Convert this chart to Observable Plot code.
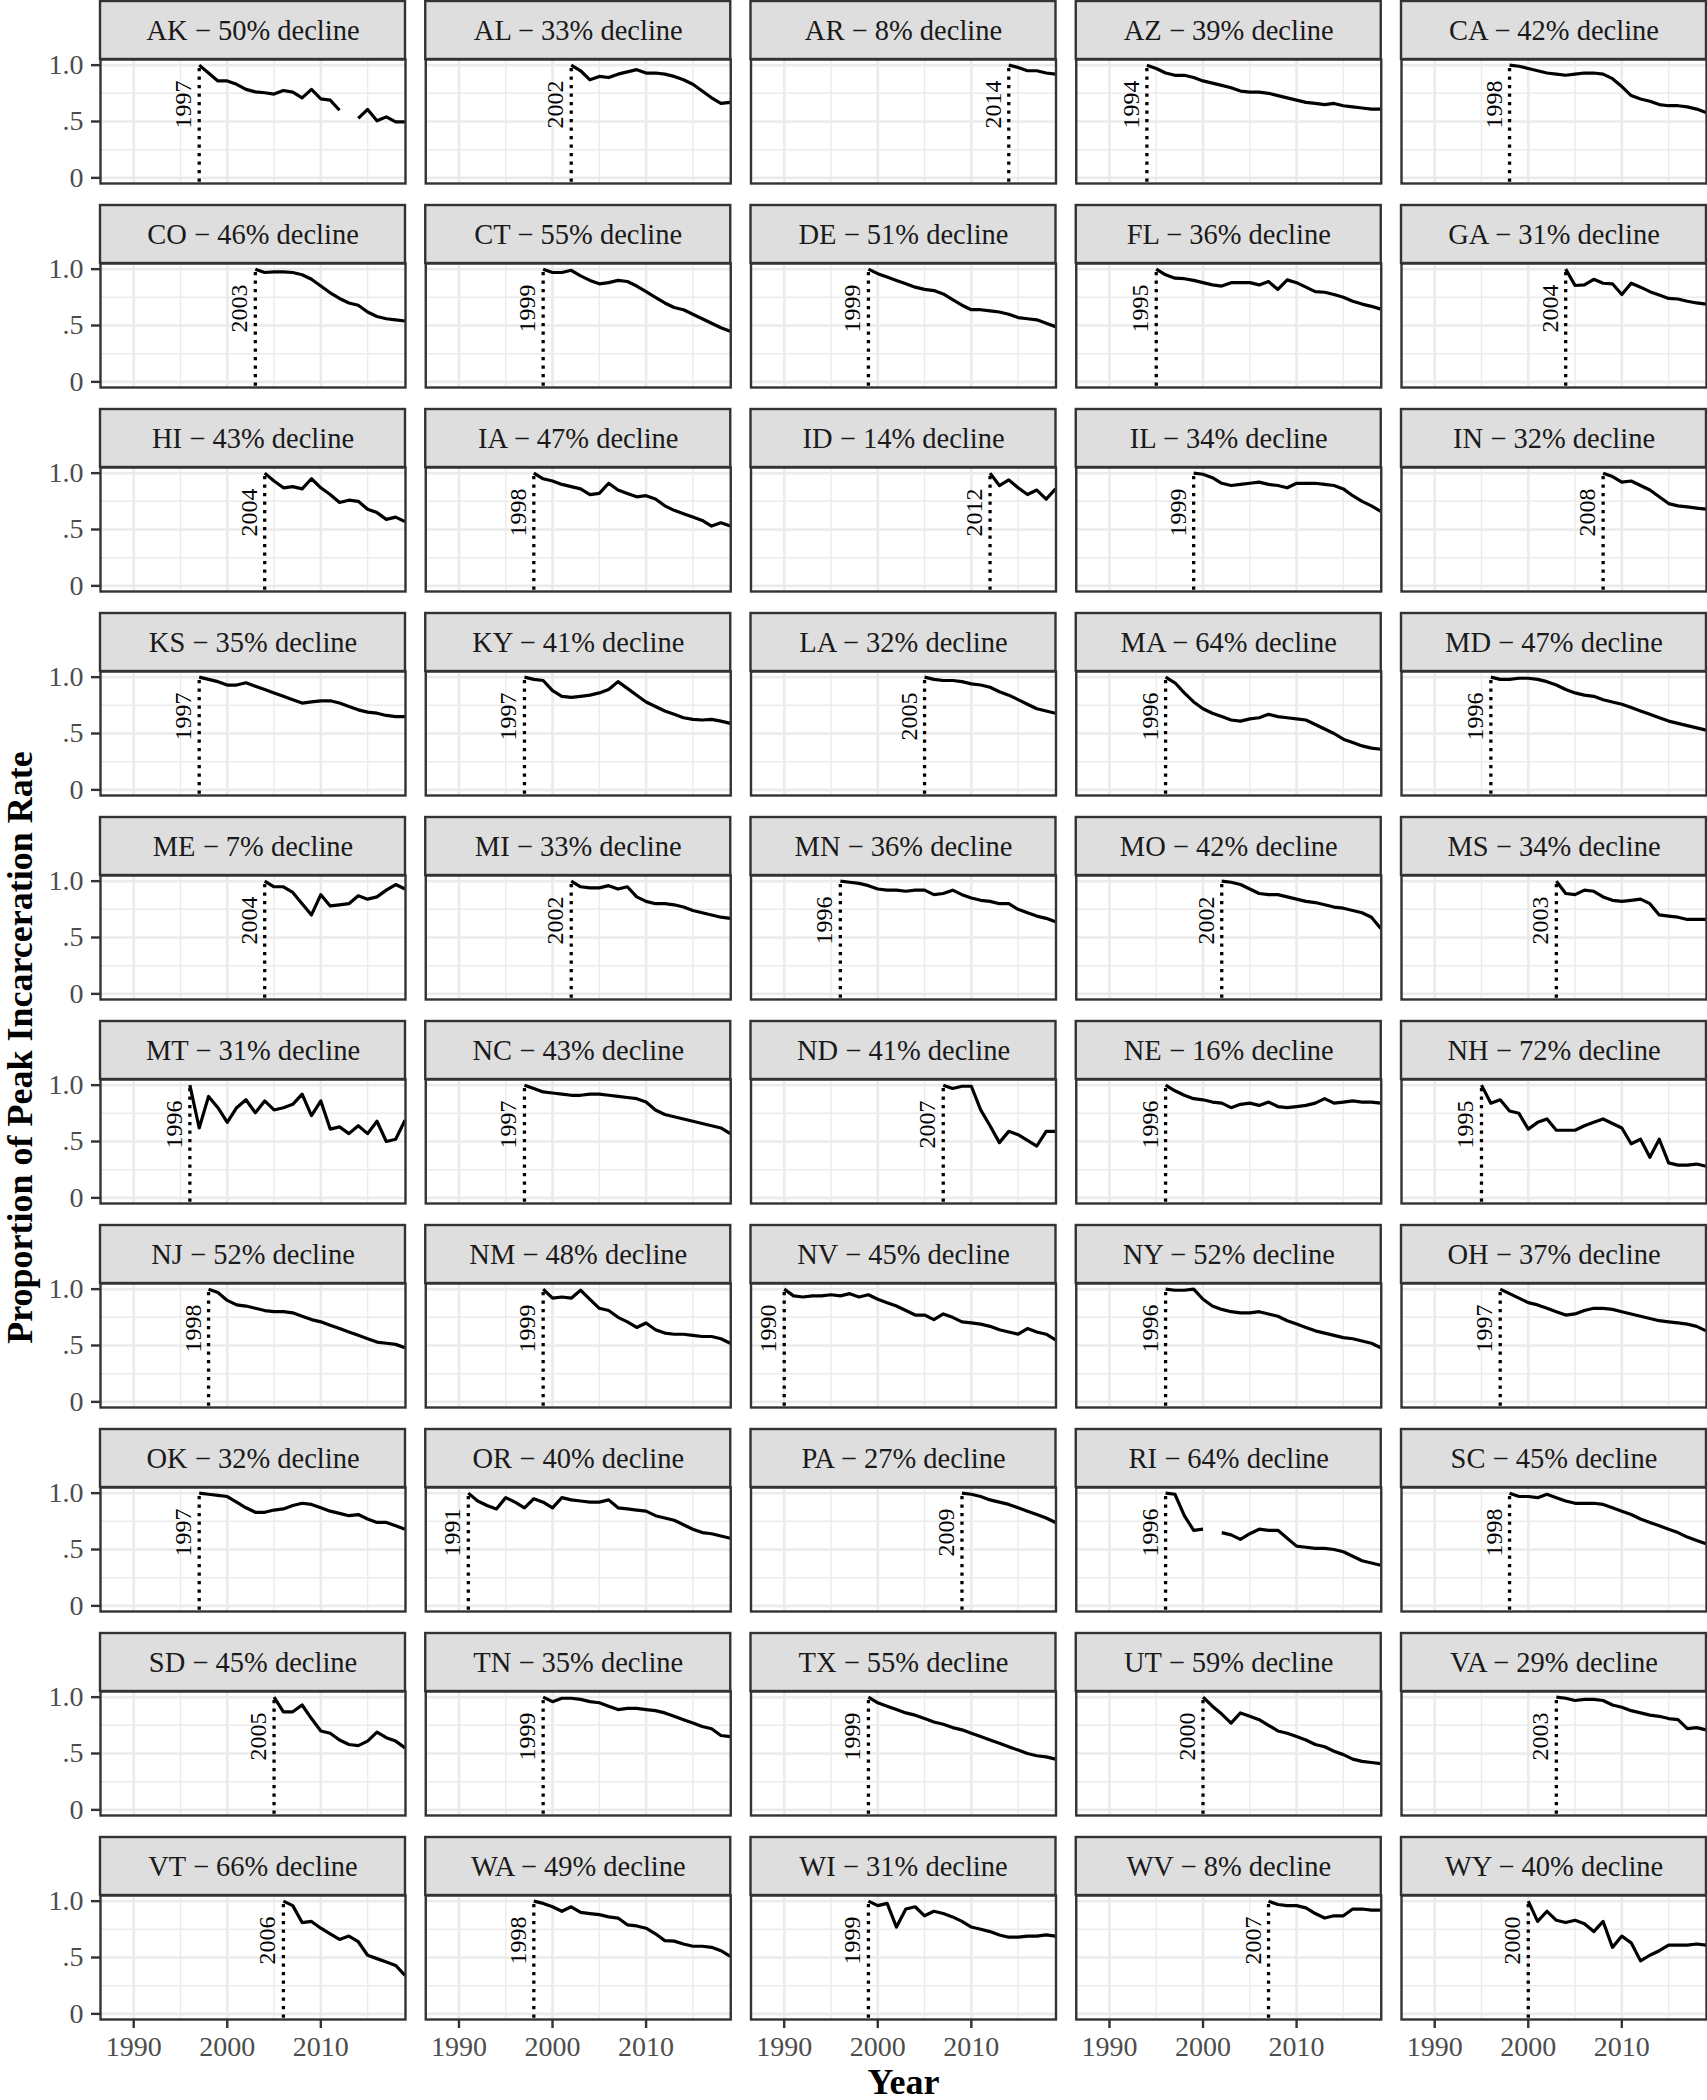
<!DOCTYPE html>
<html>
<head>
<meta charset="utf-8">
<script src="https://cdn.jsdelivr.net/npm/d3@7"></script>
<script src="https://cdn.jsdelivr.net/npm/@observablehq/plot@0.6"></script>
<style>
  body { margin: 0; background: #fff; }
  #chart svg { display: block; }
</style>
</head>
<body>
<div id="chart"></div>
<script>
// ---------------- data ----------------
const states = ["AK","AL","AR","AZ","CA","CO","CT","DE","FL","GA","HI","IA","ID","IL","IN","KS","KY","LA","MA","MD","ME","MI","MN","MO","MS","MT","NC","ND","NE","NH","NJ","NM","NV","NY","OH","OK","OR","PA","RI","SC","SD","TN","TX","UT","VA","VT","WA","WI","WV","WY"];
const declines = [50,33,8,39,42, 46,55,51,36,31, 43,47,14,34,32, 35,41,32,64,47, 7,33,36,42,34, 31,43,41,16,72, 52,48,45,52,37, 32,40,27,64,45, 45,35,55,59,29, 66,49,31,8,40];
const peakYears = [1997,2002,2014,1994,1998, 2003,1999,1999,1995,2004, 2004,1998,2012,1999,2008, 1997,1997,2005,1996,1996, 2004,2002,1996,2002,2003, 1996,1997,2007,1996,1995, 1998,1999,1990,1996,1997, 1997,1991,2009,1996,1998, 2005,1999,1999,2000,2003, 2006,1998,1999,2007,2000];
// proportion of peak rate, one value per year from the peak year to 2019 (null = missing)
const values = [
  [1.0,0.93,0.86,0.86,0.83,0.785,0.763,0.755,0.743,0.775,0.76,0.71,0.785,0.70,0.69,0.60,null,0.527,0.607,0.506,0.541,0.497,0.497], // AK
  [1.0,0.95,0.87,0.90,0.89,0.92,0.94,0.96,0.93,0.93,0.92,0.90,0.87,0.83,0.77,0.71,0.66,0.67], // AL
  [1.0,0.98,0.95,0.95,0.93,0.92], // AR
  [1.0,0.97,0.93,0.91,0.91,0.89,0.86,0.84,0.82,0.80,0.77,0.76,0.76,0.75,0.73,0.71,0.69,0.67,0.66,0.65,0.66,0.64,0.63,0.62,0.61,0.61], // AZ
  [1.0,0.99,0.97,0.95,0.93,0.92,0.91,0.92,0.93,0.93,0.92,0.88,0.81,0.73,0.70,0.68,0.65,0.64,0.64,0.63,0.61,0.58], // CA
  [1.0,0.97,0.975,0.975,0.97,0.95,0.91,0.85,0.79,0.74,0.70,0.68,0.62,0.58,0.56,0.55,0.54], // CO
  [1.0,0.97,0.97,0.99,0.94,0.90,0.87,0.88,0.90,0.89,0.85,0.80,0.75,0.70,0.66,0.64,0.60,0.56,0.52,0.48,0.45], // CT
  [1.0,0.96,0.93,0.90,0.87,0.84,0.82,0.81,0.78,0.73,0.68,0.64,0.64,0.63,0.62,0.60,0.57,0.56,0.55,0.52,0.49], // DE
  [1.0,0.95,0.92,0.915,0.90,0.88,0.86,0.85,0.88,0.88,0.88,0.86,0.89,0.82,0.905,0.88,0.84,0.80,0.795,0.775,0.75,0.715,0.69,0.67,0.645], // FL
  [1.0,0.855,0.86,0.91,0.875,0.87,0.775,0.875,0.84,0.80,0.77,0.74,0.735,0.715,0.70,0.69], // GA
  [1.0,0.93,0.87,0.88,0.86,0.95,0.87,0.81,0.74,0.76,0.75,0.68,0.65,0.59,0.61,0.57], // HI
  [1.0,0.95,0.93,0.90,0.88,0.86,0.81,0.82,0.91,0.85,0.82,0.79,0.80,0.77,0.71,0.67,0.64,0.61,0.58,0.53,0.56,0.53], // IA
  [1.0,0.89,0.94,0.87,0.81,0.85,0.77,0.86], // ID
  [1.0,0.99,0.96,0.91,0.89,0.90,0.91,0.92,0.90,0.89,0.87,0.91,0.91,0.91,0.90,0.89,0.86,0.80,0.75,0.71,0.66], // IL
  [1.0,0.97,0.92,0.93,0.89,0.85,0.79,0.73,0.71,0.70,0.69,0.68], // IN
  [1.0,0.98,0.96,0.93,0.93,0.95,0.92,0.89,0.86,0.83,0.80,0.77,0.78,0.79,0.79,0.77,0.74,0.71,0.69,0.68,0.66,0.65,0.65], // KS
  [1.0,0.98,0.97,0.88,0.83,0.82,0.83,0.84,0.86,0.89,0.96,0.90,0.84,0.78,0.74,0.70,0.67,0.64,0.625,0.62,0.625,0.61,0.59], // KY
  [1.0,0.98,0.97,0.97,0.96,0.94,0.93,0.91,0.87,0.84,0.80,0.76,0.72,0.70,0.68], // LA
  [1.0,0.95,0.86,0.78,0.72,0.68,0.65,0.62,0.61,0.63,0.64,0.67,0.65,0.64,0.63,0.62,0.58,0.54,0.50,0.45,0.42,0.39,0.37,0.36], // MA
  [1.0,0.98,0.98,0.99,0.99,0.98,0.96,0.93,0.89,0.86,0.84,0.83,0.80,0.78,0.76,0.73,0.70,0.67,0.64,0.61,0.59,0.57,0.55,0.53], // MD
  [1.0,0.95,0.95,0.90,0.80,0.70,0.88,0.78,0.79,0.80,0.87,0.84,0.86,0.92,0.97,0.93], // ME
  [1.0,0.95,0.94,0.94,0.96,0.93,0.95,0.86,0.82,0.80,0.80,0.79,0.77,0.74,0.72,0.70,0.68,0.67], // MI
  [1.0,0.99,0.98,0.96,0.93,0.92,0.92,0.91,0.92,0.92,0.88,0.89,0.92,0.88,0.85,0.83,0.82,0.80,0.80,0.75,0.72,0.69,0.67,0.64], // MN
  [1.0,0.99,0.97,0.93,0.89,0.88,0.88,0.86,0.84,0.82,0.81,0.79,0.77,0.76,0.74,0.72,0.68,0.58], // MO
  [1.0,0.89,0.88,0.92,0.91,0.86,0.83,0.82,0.83,0.84,0.80,0.70,0.69,0.68,0.66,0.66,0.66], // MS
  [1.0,0.62,0.90,0.80,0.67,0.80,0.87,0.755,0.86,0.78,0.80,0.83,0.92,0.73,0.86,0.61,0.63,0.57,0.64,0.57,0.68,0.50,0.52,0.69], // MT
  [1.0,0.97,0.94,0.93,0.92,0.91,0.91,0.92,0.92,0.91,0.90,0.89,0.88,0.85,0.78,0.74,0.72,0.70,0.68,0.66,0.64,0.62,0.57], // NC
  [1.0,0.97,0.99,0.99,0.78,0.64,0.49,0.59,0.56,0.51,0.46,0.59,0.59], // ND
  [1.0,0.95,0.91,0.88,0.87,0.85,0.84,0.80,0.83,0.84,0.82,0.85,0.81,0.80,0.81,0.82,0.84,0.88,0.84,0.85,0.86,0.85,0.85,0.84], // NE
  [1.0,0.84,0.87,0.77,0.75,0.61,0.67,0.70,0.60,0.60,0.60,0.64,0.67,0.70,0.66,0.62,0.48,0.52,0.36,0.52,0.31,0.29,0.29,0.30,0.28], // NH
  [1.0,0.97,0.90,0.86,0.85,0.83,0.81,0.80,0.80,0.79,0.76,0.73,0.71,0.68,0.65,0.62,0.59,0.56,0.53,0.52,0.51,0.48], // NJ
  [1.0,0.92,0.93,0.92,0.99,0.91,0.83,0.81,0.75,0.71,0.66,0.70,0.64,0.61,0.60,0.60,0.59,0.58,0.58,0.56,0.52], // NM
  [1.0,0.94,0.93,0.94,0.94,0.95,0.94,0.96,0.93,0.95,0.91,0.88,0.85,0.81,0.77,0.77,0.73,0.78,0.75,0.71,0.70,0.69,0.67,0.64,0.62,0.60,0.65,0.62,0.60,0.55], // NV
  [1.0,0.99,0.99,1.0,0.91,0.85,0.82,0.80,0.79,0.79,0.80,0.78,0.76,0.72,0.69,0.66,0.63,0.61,0.59,0.57,0.56,0.54,0.52,0.48], // NY
  [1.0,0.96,0.92,0.88,0.86,0.83,0.80,0.77,0.78,0.81,0.83,0.83,0.82,0.80,0.78,0.76,0.74,0.72,0.71,0.70,0.69,0.67,0.63], // OH
  [1.0,0.99,0.98,0.97,0.92,0.87,0.83,0.83,0.85,0.86,0.89,0.91,0.90,0.87,0.84,0.82,0.80,0.81,0.77,0.74,0.74,0.71,0.68], // OK
  [1.0,0.93,0.89,0.86,0.96,0.92,0.87,0.95,0.92,0.87,0.96,0.94,0.93,0.92,0.92,0.94,0.87,0.86,0.85,0.84,0.80,0.78,0.76,0.72,0.68,0.65,0.64,0.62,0.60], // OR
  [1.0,0.99,0.97,0.94,0.92,0.90,0.87,0.84,0.81,0.78,0.74], // PA
  [1.0,0.99,0.80,0.67,0.68,null,0.65,0.63,0.59,0.64,0.68,0.67,0.67,0.60,0.53,0.52,0.51,0.51,0.50,0.48,0.44,0.40,0.38,0.36], // RI
  [1.0,0.97,0.97,0.96,0.99,0.96,0.93,0.91,0.91,0.91,0.90,0.87,0.84,0.81,0.77,0.74,0.71,0.68,0.65,0.61,0.58,0.55], // SC
  [1.0,0.87,0.87,0.93,0.81,0.70,0.68,0.62,0.58,0.57,0.61,0.69,0.64,0.61,0.55], // SD
  [1.0,0.96,0.99,0.99,0.98,0.96,0.95,0.92,0.89,0.90,0.90,0.89,0.88,0.86,0.83,0.80,0.77,0.74,0.72,0.66,0.65], // TN
  [1.0,0.95,0.92,0.89,0.86,0.84,0.81,0.78,0.76,0.73,0.71,0.68,0.65,0.62,0.59,0.56,0.53,0.50,0.48,0.47,0.45], // TX
  [1.0,0.92,0.85,0.77,0.86,0.83,0.80,0.75,0.70,0.68,0.65,0.62,0.58,0.56,0.52,0.49,0.45,0.43,0.42,0.41], // UT
  [1.0,0.99,0.97,0.98,0.98,0.97,0.93,0.91,0.88,0.86,0.84,0.83,0.81,0.80,0.72,0.73,0.71], // VA
  [1.0,0.96,0.81,0.82,0.76,0.71,0.66,0.69,0.64,0.52,0.49,0.46,0.43,0.34], // VT
  [1.0,0.98,0.95,0.91,0.95,0.90,0.89,0.88,0.86,0.85,0.79,0.78,0.76,0.71,0.65,0.645,0.62,0.60,0.60,0.59,0.56,0.51], // WA
  [1.0,0.96,0.98,0.77,0.93,0.95,0.87,0.91,0.89,0.86,0.82,0.77,0.75,0.73,0.70,0.68,0.68,0.69,0.69,0.70,0.69], // WI
  [1.0,0.97,0.96,0.96,0.94,0.89,0.85,0.87,0.87,0.93,0.93,0.92,0.92], // WV
  [1.0,0.82,0.91,0.83,0.81,0.83,0.80,0.73,0.82,0.59,0.69,0.63,0.47,0.52,0.56,0.61,0.61,0.61,0.62,0.61]  // WY
];
const xTicks = [1990, 2000, 2010];
const xMinorTicks = [1995, 2005, 2015];
const yTicks = [0, 0.5, 1];
const yTickLabels = ["0", ".5", "1.0"];
const yMinorTicks = [0.25, 0.75];
const xTitle = "Year";
const yTitle = "Proportion of Peak Incarceration Rate";

// ---------------- layout helpers ----------------
const NCOL = 5;
const xDomain = [1986.45, 2019.05];
const yDomain = [-0.05, 1.05];
const stripSpan = 0.5145;               // strip height in y units (above each panel)
const labelY = 0.65;                    // where the rotated peak-year label sits

const panels = states.map((s, i) => ({
  state: s,
  label: `${s} \u2212 ${declines[i]}% decline`,
  peak: peakYears[i],
  col: i % NCOL,
  row: Math.floor(i / NCOL)
}));
const points = [];
panels.forEach((p, i) => {
  values[i].forEach((v, j) => {
    points.push({state: p.state, col: p.col, row: p.row, year: p.peak + j, value: v});
  });
});

const FONT = "'Liberation Serif', 'DejaVu Serif', serif";
const gridColor = "#ebebeb";
const darkLine = "#333333";

const chart = Plot.plot({
  width: 1707,
  height: 2100,
  marginLeft: 100,
  marginRight: 1,
  marginTop: 59,
  marginBottom: 81,
  style: {fontFamily: FONT, background: "#ffffff", overflow: "visible"},
  x: {domain: xDomain},
  y: {domain: yDomain},
  fx: {domain: d3.range(NCOL), paddingInner: 0.06226, paddingOuter: 0, round: false, axis: null},
  fy: {domain: d3.range(10), paddingInner: 0.39216, paddingOuter: 0, round: false, axis: null},
  marks: [
    // panel grid
    Plot.gridX(xMinorTicks, {stroke: gridColor, strokeOpacity: 1, strokeWidth: 1.4}),
    Plot.gridY(yMinorTicks, {stroke: gridColor, strokeOpacity: 1, strokeWidth: 1.4}),
    Plot.gridX(xTicks, {stroke: gridColor, strokeOpacity: 1, strokeWidth: 2.7}),
    Plot.gridY(yTicks, {stroke: gridColor, strokeOpacity: 1, strokeWidth: 2.7}),
    // strips above each panel
    Plot.rect(panels, {
      fx: "col", fy: "row",
      x1: () => xDomain[0], x2: () => xDomain[1],
      y1: () => yDomain[1], y2: () => yDomain[1] + stripSpan,
      fill: "#dedede", stroke: darkLine, strokeWidth: 2.4
    }),
    Plot.text(panels, {
      fx: "col", fy: "row",
      x: () => (xDomain[0] + xDomain[1]) / 2,
      y: () => yDomain[1] + stripSpan / 2,
      text: "label", fontSize: 28.5, fill: "#1a1a1a", lineAnchor: "middle"
    }),
    // peak year marker
    Plot.ruleX(panels, {
      fx: "col", fy: "row", x: "peak",
      y1: () => -0.04, y2: () => 1,
      stroke: "black", strokeWidth: 3.3, strokeDasharray: "3.3,5.2"
    }),
    Plot.text(panels, {
      fx: "col", fy: "row", x: "peak", y: () => labelY,
      text: d => String(d.peak), rotate: -90,
      textAnchor: "middle", lineAnchor: "bottom", dx: -8,
      fontSize: 24, fill: "black"
    }),
    // series
    Plot.line(points, {
      fx: "col", fy: "row", x: "year", y: "value", z: "state",
      stroke: "black", strokeWidth: 3.2, strokeLinejoin: "round", strokeLinecap: "butt"
    }),
    Plot.frame({stroke: darkLine, strokeWidth: 2.4}),
    // axes
    Plot.axisX(xTicks, {
      tickFormat: d => String(d), tickSize: 9, tickPadding: 8,
      fontSize: 28, fill: "#4d4d4d", stroke: darkLine, strokeWidth: 2.4, label: null
    }),
    Plot.axisY(yTicks, {
      tickFormat: d => yTickLabels[yTicks.indexOf(d)], tickSize: 9, tickPadding: 8,
      fontSize: 28, fill: "#4d4d4d", stroke: darkLine, strokeWidth: 2.4, label: null
    }),
    // axis titles
    Plot.text([xTitle], {
      facet: "super", frameAnchor: "bottom", textAnchor: "middle", lineAnchor: "bottom", dy: 74,
      text: d => d, fontSize: 36, fontWeight: "bold", fill: "black"
    }),
    Plot.text([yTitle], {
      facet: "super", frameAnchor: "left", textAnchor: "middle", lineAnchor: "bottom", rotate: -90, dx: -69, dy: 8,
      text: d => d, fontSize: 36, fontWeight: "bold", fill: "black"
    })
  ]
});

document.getElementById("chart").appendChild(chart);
</script>
</body>
</html>
